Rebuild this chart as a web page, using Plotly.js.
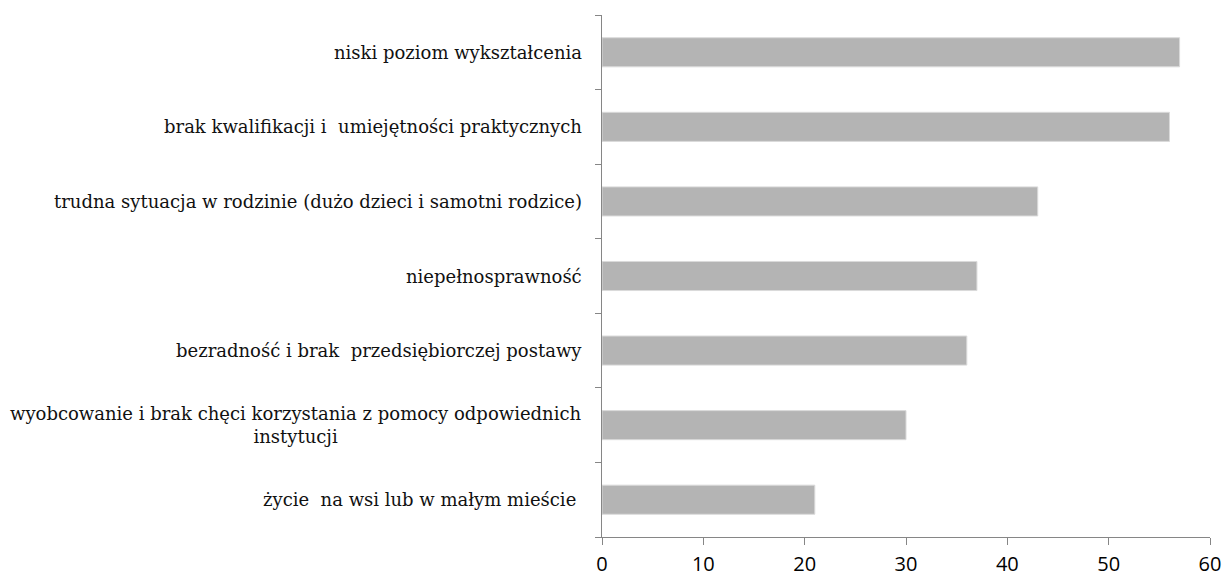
<!DOCTYPE html>
<html>
<head>
<meta charset="utf-8">
<script src="https://cdn.plot.ly/plotly-3.0.1.min.js"></script>
<style>html,body{margin:0;padding:0;background:#fff;}#chart{width:1224px;height:580px;}</style>
</head>
<body>
<div id="chart"></div>
<script>
// Categories (bottom to top as drawn)
const categories = [
  "życie\u00a0 na wsi lub w małym mieście\u00a0",
  "wyobcowanie i brak chęci korzystania z pomocy odpowiednich<br>instytucji",
  "bezradność i brak\u00a0 przedsiębiorczej postawy",
  "niepełnosprawność",
  "trudna sytuacja w rodzinie (dużo dzieci i samotni rodzice)",
  "brak kwalifikacji i\u00a0 umiejętności praktycznych",
  "niski poziom wykształcenia"
];
const values = [21, 30, 36, 37, 43, 56, 57];
const xTicks = [0, 10, 20, 30, 40, 50, 60];

const labelFont = {family: "DejaVu Serif, serif", size: 18, color: "#111"};

const annotations = categories.map(c => ({
  xref: "paper", yref: "y", x: 0, y: c,
  xanchor: "right", yanchor: "middle", xshift: -18,
  align: "center", showarrow: false, text: c, font: labelFont
}));

const trace = {
  type: "bar", orientation: "h",
  x: values, y: categories,
  marker: {color: "#b4b4b4", line: {color: "#dadada", width: 1}},
  hoverinfo: "x+y"
};

const layout = {
  width: 1224, height: 580,
  margin: {l: 602, r: 14, t: 15, b: 43, pad: 0},
  paper_bgcolor: "#fff", plot_bgcolor: "#fff",
  showlegend: false,
  bargap: 0.61,
  xaxis: {
    range: [0, 60], tickvals: xTicks, ticktext: xTicks.map(String),
    showgrid: false, zeroline: false, showline: true,
    linecolor: "#868686", linewidth: 1,
    ticks: "outside", ticklen: 7, tickcolor: "#868686", tickwidth: 1,
    ticklabelstandoff: 2,
    tickfont: {family: "Open Sans, sans-serif", size: 20, color: "#000"},
    fixedrange: true
  },
  yaxis: {
    type: "category", categoryorder: "array", categoryarray: categories,
    range: [-0.5, categories.length - 0.5],
    showgrid: false, zeroline: false, showline: true,
    linecolor: "#868686", linewidth: 1,
    ticks: "outside", tickson: "boundaries", ticklen: 6, tickcolor: "#868686", tickwidth: 1,
    showticklabels: false, fixedrange: true
  },
  annotations: annotations
};

Plotly.newPlot("chart", [trace], layout, {displayModeBar: false, staticPlot: true});
</script>
</body>
</html>
